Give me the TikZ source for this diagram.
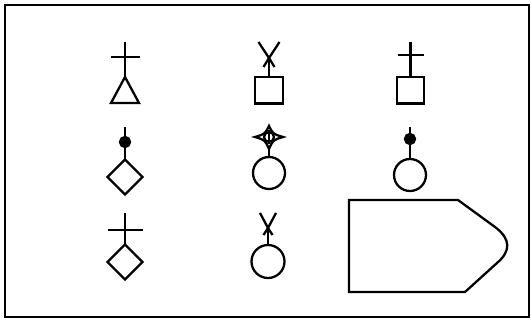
\documentclass[tikz,border=0pt]{standalone}
\begin{document}
\begin{tikzpicture}[line width=1.3pt]
	\tikzset{dot/.style={fill=black}}
	\useasboundingbox (0,0) rectangle (10.62,6.4);
	\draw[line width=1.5pt] (0.1,0.06) rectangle (10.58,6.3);
		
		% first row
		\coordinate (T1) at (2.5,4.86);
		\coordinate (Q2) at (5.38,4.86);
		\coordinate (Q3) at (8.21,4.86);
		
		\draw (2.5,5.56) -- (T1);
		\draw (2.21,5.26) -- (2.79,5.26);
		\draw (T1) -- (2.78,4.34) -- (2.22,4.34) -- cycle;
		
		\draw (5.1,4.33) rectangle (5.66,4.86);
		\draw (5.38,5.24) -- (Q2);
		\draw (5.17,5.56) -- (5.38,5.24) -- (5.49,5.06);
		\draw (5.59,5.56) -- (5.38,5.24) -- (5.27,5.06);
		
		\draw (7.94,4.33) rectangle (8.48,4.86);
		\draw (8.21,5.56) -- (Q3);
		\draw (7.95,5.3) -- (8.47,5.3);
		
		% second row
		\coordinate (D1) at (2.5,2.86);
		\coordinate (C2) at (5.38,2.94);
		\coordinate (C3) at (8.2,2.9);
		
		\draw (2.5,3.86) -- (2.5,3.21);
		\filldraw[dot] (2.5,3.56) circle (0.1);
		\draw (2.5,3.21) -- (2.85,2.86) -- (2.5,2.51) -- (2.15,2.86) -- cycle;
		
		\draw (5.38,3.88) .. controls (5.46,3.72) .. (5.66,3.66)
			.. controls (5.46,3.6) .. (5.38,3.42)
			.. controls (5.3,3.6) .. (5.1,3.66)
			.. controls (5.3,3.72) .. cycle;
		\draw (5.38,3.66) circle (0.1);
		\draw (5.38,3.8) -- (5.38,3.52);
		\draw (5.38,3.42) -- (5.38,3.26);
		\draw (C2) circle (0.32);
		
		\draw (8.2,3.86) -- (8.2,3.22);
		\filldraw[dot] (8.2,3.62) circle (0.1);
		\draw (C3) circle (0.32);
		
		% third row
		\coordinate (D3) at (2.5,1.16);
		\coordinate (C4) at (5.36,1.17);
		
		\draw (2.5,2.14) -- (2.5,1.51);
		\draw (2.15,1.8) -- (2.85,1.8);
		\draw (2.5,1.51) -- (2.85,1.16) -- (2.5,0.81) -- (2.15,1.16) -- cycle;
		
		\draw (5.36,1.84) -- (5.36,1.5);
		\draw (5.2,2.14) -- (5.36,1.84) -- (5.45,1.7);
		\draw (5.52,2.14) -- (5.36,1.84) -- (5.27,1.7);
		\draw (C4) circle (0.33);
		
		% big outline
		\draw (6.98,2.4) -- (9.16,2.4) -- (9.9,1.86)
			.. controls (10.22,1.62) and (10.22,1.38) .. (9.94,1.14)
			-- (9.3,0.56) -- (6.98,0.56) -- cycle;
		
\end{tikzpicture}
\end{document}
